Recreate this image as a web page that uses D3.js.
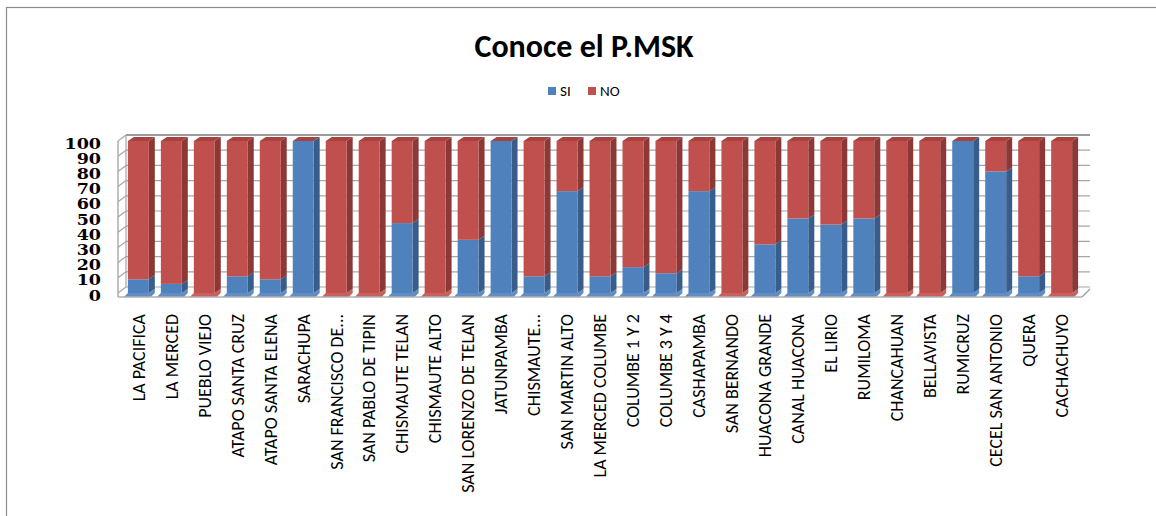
<!DOCTYPE html>
<html>
<head>
<meta charset="utf-8">
<script src="https://cdn.jsdelivr.net/npm/d3@7"></script>
<style>
  html, body { margin: 0; padding: 0; background: #fff; }
  svg { display: block; }
</style>
</head>
<body>
<svg id="chart" width="1156" height="516"></svg>
<script>
const categories = ["LA PACIFICA","LA MERCED","PUEBLO VIEJO","ATAPO SANTA CRUZ","ATAPO SANTA ELENA","SARACHUPA","SAN FRANCISCO DE...","SAN PABLO DE TIPIN","CHISMAUTE TELAN","CHISMAUTE ALTO","SAN LORENZO DE TELAN","JATUNPAMBA","CHISMAUTE...","SAN MARTIN ALTO","LA MERCED COLUMBE","COLUMBE 1 Y 2","COLUMBE 3 Y 4","CASHAPAMBA","SAN BERNANDO","HUACONA GRANDE","CANAL HUACONA","EL LIRIO","RUMILOMA","CHANCAHUAN","BELLAVISTA","RUMICRUZ","CECEL SAN ANTONIO","QUERA","CACHACHUYO"];
const siValues = [9,6,0,11,9,100,0,0,46,0,35,100,11,67,11,17,13,67,0,32,49,45,49,0,0,100,80,11,0];
const noValues = siValues.map(v => 100 - v);
const yTicks = [0,10,20,30,40,50,60,70,80,90,100];
const seriesNames = ["SI","NO"];

const svg = d3.select("#chart");
const W = 1156, H = 516;
const sansFont = "Calibri,Carlito,'DejaVu Sans Condensed','Liberation Sans',sans-serif";

svg.append("rect").attr("x", 6.5).attr("y", 7.5).attr("width", W + 10).attr("height", H + 10)
  .attr("fill", "#fff").attr("stroke", "#8c8c8c").attr("stroke-width", 1.2);

svg.append("text").attr("x", 584).attr("y", 57).attr("text-anchor", "middle")
  .attr("font-family", sansFont)
  .attr("font-weight", "bold").attr("font-size", 32).attr("fill", "#000")
  .text("Conoce el P.MSK");

const colors = { SI: "#4F81BD", NO: "#C0504D" };
const sideColors = { SI: "#385D8A", NO: "#8C3836" };
const topColors = { SI: "#6A94C8", NO: "#A8423F" };
const legendX = [548, 588];
seriesNames.forEach((s, i) => {
  svg.append("rect").attr("x", legendX[i]).attr("y", 87).attr("width", 8).attr("height", 8).attr("fill", colors[s]);
  svg.append("text").attr("x", legendX[i] + 12).attr("y", 96)
    .attr("font-family", sansFont)
    .attr("font-size", 15).attr("fill", "#000").text(s);
});

const x = d3.scaleBand().domain(categories).range([118, 1082]).paddingInner(0.365).paddingOuter(0.3);
const y = d3.scaleLinear().domain([0, 100]).range([293, 141]);
const wallDX = 8, wallDY = 6;
const barDX = 6, barDY = 4;
const x0 = 118, x1 = 1082;

const grid = svg.append("g");
yTicks.forEach(t => {
  grid.append("line").attr("x1", x0 + wallDX).attr("x2", x1 + wallDX)
    .attr("y1", y(t) - wallDY).attr("y2", y(t) - wallDY)
    .attr("stroke", t === 100 ? "#9a9a9a" : "#a6a6a6").attr("stroke-width", t === 100 ? 2.2 : 1.2);
  grid.append("line").attr("x1", x0).attr("y1", y(t)).attr("x2", x0 + wallDX).attr("y2", y(t) - wallDY)
    .attr("stroke", "#a6a6a6").attr("stroke-width", 1.2);
});
grid.append("line").attr("x1", x0).attr("x2", x0).attr("y1", y(0)).attr("y2", y(100))
  .attr("stroke", "#a6a6a6").attr("stroke-width", 1.4);
grid.append("line").attr("x1", x0 + wallDX).attr("x2", x0 + wallDX).attr("y1", y(0) - wallDY).attr("y2", y(100) - wallDY)
  .attr("stroke", "#a6a6a6").attr("stroke-width", 1.2);

const stackData = categories.map((c, i) => ({ cat: c, SI: siValues[i], NO: noValues[i] }));
const stack = d3.stack().keys(seriesNames)(stackData);
const bw = x.bandwidth();
const bars = svg.append("g");
stackData.forEach(d => {
  const bx = x(d.cat), yb = y(0);
  const key = d.SI > 0 ? "SI" : "NO";
  bars.append("path")
    .attr("d", `M${bx},${yb} L${bx + bw},${yb} L${bx + bw + barDX},${yb - barDY} L${bx + bw + barDX},${yb} L${bx + bw + 2},${yb + 4} L${bx - 4},${yb + 4} Z`)
    .attr("fill", colors[key]).attr("opacity", 0.9);
});
stack.forEach(layer => {
  const key = layer.key;
  layer.forEach(d => {
    const bx = x(d.data.cat);
    const yb = y(d[0]), yt = y(d[1]);
    if (d[1] - d[0] <= 0) return;
    bars.append("path")
      .attr("d", `M${bx + bw},${yb} L${bx + bw + barDX},${yb - barDY} L${bx + bw + barDX},${yt - barDY} L${bx + bw},${yt} Z`)
      .attr("fill", sideColors[key]);
    bars.append("rect").attr("x", bx).attr("y", yt).attr("width", bw).attr("height", yb - yt)
      .attr("fill", colors[key]);
  });
});
stackData.forEach(d => {
  const bx = x(d.cat), yt = y(d.SI + d.NO);
  bars.append("path")
    .attr("d", `M${bx},${yt} L${bx + barDX},${yt - barDY} L${bx + bw + barDX},${yt - barDY} L${bx + bw},${yt} Z`)
    .attr("fill", topColors.NO);
});
svg.append("line").attr("x1", x0).attr("x2", x1).attr("y1", y(0) + 4).attr("y2", y(0) + 4)
  .attr("stroke", "#b0b0b0").attr("stroke-width", 1.6);
svg.append("line").attr("x1", x1).attr("y1", y(0) + 4).attr("x2", x1 + wallDX).attr("y2", y(0) + 4 - wallDY - 2)
  .attr("stroke", "#a6a6a6").attr("stroke-width", 1.6);
svg.append("line").attr("x1", x0).attr("y1", y(0)).attr("x2", x0).attr("y2", y(0) + 4)
  .attr("stroke", "#a6a6a6").attr("stroke-width", 1.4);

const yAxis = d3.axisLeft(y).tickValues(yTicks).tickSize(0).tickPadding(0);
const yg = svg.append("g").attr("transform", "translate(101,2)").call(yAxis);
yg.select(".domain").remove();
yg.selectAll(".tick").each(function(d) {
  d3.select(this).select("text").attr("x", 0).attr("dy", "0.36em")
    .attr("transform", "scale(1.25,1)")
    .attr("font-family", "'DejaVu Serif','Liberation Serif',serif")
    .attr("font-weight", "bold").attr("font-size", 14).attr("fill", "#000");
});

const xAxis = d3.axisBottom(x).tickSize(0).tickPadding(0);
const xg = svg.append("g").attr("transform", "translate(0,314)").call(xAxis);
xg.select(".domain").remove();
xg.selectAll(".tick").attr("transform", d => `translate(${x(d) + bw / 2},0)`);
xg.selectAll("text")
  .attr("font-family", sansFont)
  .attr("font-size", 18).attr("fill", "#000")
  .attr("text-anchor", "end").attr("dy", "0.35em")
  .attr("transform", "rotate(-90)").attr("x", 0).attr("y", 0);
</script>
</body>
</html>
